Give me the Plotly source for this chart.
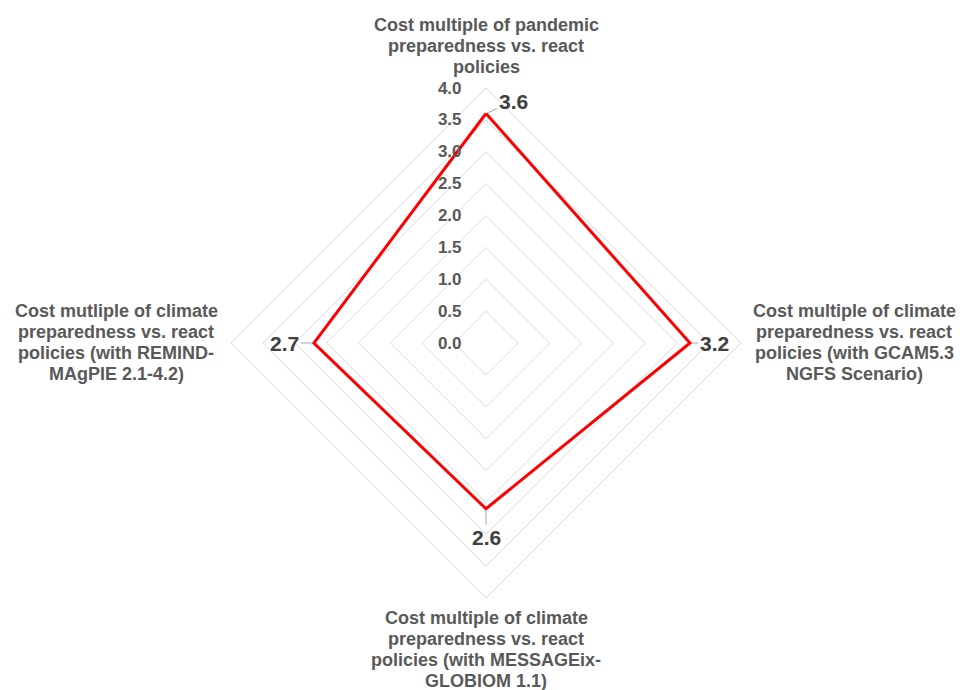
import plotly.graph_objects as go

# ---------------- data ----------------
categories = ["Pandemic", "GCAM5.3 NGFS", "MESSAGEix-GLOBIOM 1.1", "REMIND-MAgPIE 2.1-4.2"]
values = [3.6, 3.2, 2.6, 2.7]
value_labels = ["3.6", "3.2", "2.6", "2.7"]
axis_label_lines = [
    ["Cost multiple of pandemic", "preparedness vs. react", "policies"],
    ["Cost multiple of climate", "preparedness vs. react", "policies (with GCAM5.3", "NGFS Scenario)"],
    ["Cost multiple of climate", "preparedness vs. react", "policies (with MESSAGEix-", "GLOBIOM 1.1)"],
    ["Cost mutliple of climate", "preparedness vs. react", "policies (with REMIND-", "MAgPIE 2.1-4.2)"],
]
radial_tickvals = [0.0, 0.5, 1.0, 1.5, 2.0, 2.5, 3.0, 3.5, 4.0]
radial_max = 4.0

# ---------------- layout geometry ----------------
W, H = 960, 690
CX, CY, R = 486, 343, 255
dom_x = [(CX - R) / W, (CX + R) / W]
dom_y = [(H - CY - R) / H, (H - CY + R) / H]

FONT = "Liberation Sans, Arial, sans-serif"
GRID = "#d9d9d9"
LABEL_GREY = "#595959"
VALUE_GREY = "#404040"

# unit directions (clockwise from top) for the overlay axes
dirs = [(0, 1), (1, 0), (0, -1), (-1, 0)]

fig = go.Figure()

fig.add_trace(go.Scatterpolar(
    r=values + values[:1],
    theta=categories + categories[:1],
    mode="lines",
    line=dict(color="#ff0000", width=3),
    showlegend=False,
    hoverinfo="skip",
))

# invisible cartesian overlay sharing the polar frame (used for labels)
fig.add_trace(go.Scatter(x=[0], y=[0], mode="markers", marker=dict(opacity=0),
                         showlegend=False, hoverinfo="skip"))

annotations = []
# value labels with leader lines
offsets = [(27, -12), (24, 0), (0, 29), (-29, 0)]
for (dx, dy), v, txt, (ax, ay) in zip(dirs, values, value_labels, offsets):
    annotations.append(dict(
        x=dx * v, y=dy * v, xref="x", yref="y",
        text=txt, showarrow=True, arrowhead=0, arrowwidth=1, arrowcolor="#a6a6a6",
        ax=ax, ay=ay, standoff=2,
        font=dict(family=FONT, size=21, color=VALUE_GREY, weight="bold"),
    ))

# category labels (one annotation per line for Excel-like line spacing)
L = 21
cat_font = dict(family=FONT, size=18, color=LABEL_GREY, weight="bold")
for i, ((dx, dy), lines) in enumerate(zip(dirs, axis_label_lines)):
    n = len(lines)
    for k, line in enumerate(lines):
        if i == 0:
            xs, ys = 0, 21 + (n - 1 - k) * L
        elif i == 2:
            xs, ys = 0, -(20 + k * L)
        elif i == 1:
            xs, ys = 113, (n - 1) / 2 * L - k * L + 1
        else:
            xs, ys = -115, (n - 1) / 2 * L - k * L + 1
        annotations.append(dict(
            x=dx * radial_max, y=dy * radial_max, xref="x", yref="y",
            text=line, showarrow=False, xanchor="center", yanchor="middle",
            xshift=xs, yshift=ys, font=cat_font,
        ))

fig.update_layout(
    width=W, height=H,
    margin=dict(l=0, r=0, t=0, b=0),
    paper_bgcolor="white", plot_bgcolor="white",
    showlegend=False,
    polar=dict(
        domain=dict(x=dom_x, y=dom_y),
        bgcolor="white",
        gridshape="linear",
        angularaxis=dict(
            type="category", rotation=90, direction="clockwise",
            showgrid=False, showline=True, linecolor=GRID, linewidth=1,
            showticklabels=False, ticks="",
        ),
        radialaxis=dict(
            range=[0, radial_max], tickvals=radial_tickvals, tickformat=".1f",
            angle=90, tickangle=90, side="counterclockwise",
            showline=False, showgrid=True, gridcolor=GRID, gridwidth=1,
            ticks="outside", ticklen=18, tickcolor="rgba(0,0,0,0)",
            tickfont=dict(family=FONT, size=17, color=LABEL_GREY, weight="bold"),
        ),
    ),
    xaxis=dict(domain=dom_x, range=[-radial_max, radial_max], visible=False, fixedrange=True),
    yaxis=dict(domain=dom_y, range=[-radial_max, radial_max], visible=False, fixedrange=True),
    annotations=annotations,
)

fig.write_html("out.html")
